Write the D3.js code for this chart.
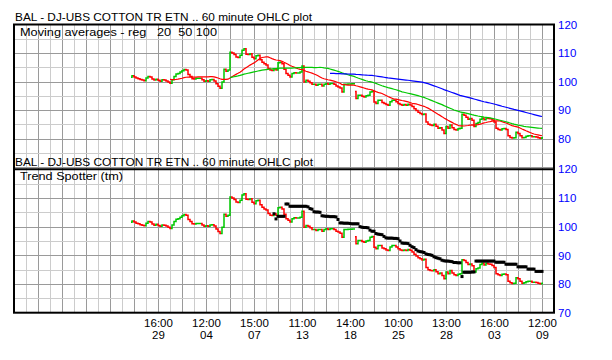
<!DOCTYPE html>
<html>
<head>
<meta charset="utf-8">
<script src="https://cdn.jsdelivr.net/npm/d3@7"></script>
<style>
body{margin:0;background:#fff;}
text{font-family:"Liberation Sans",Arial,sans-serif;font-size:11.5px;}
</style>
</head>
<body>
<svg id="chart"></svg>
<script>
// x axis labels, one every 24 hourly bars
var labelBars = [13,37,61,85,109,133,157,181,205];
var timeLabels = ["16:00","12:00","15:00","11:00","14:00","10:00","13:00","16:00","12:00"];
var dayLabels = ["29","04","07","13","18","25","28","03","09"];

var topTicks = [80,90,100,110,120];
var botTicks = [70,80,90,100,110,120];

// hourly bars (index 0 = first bar)
var opens = [
101.5,102.0,101.6,101.2,101.0,100.7,100.5,100.3,101.2,101.8,
101.6,100.9,100.5,100.8,100.4,100.1,100.6,100.5,100.2,99.8,
99.4,100.6,101.8,102.6,102.8,103.3,103.8,104.2,104.0,102.5,
101.8,101.0,100.9,101.1,101.1,101.1,100.6,100.1,100.3,100.1,
100.6,100.7,100.2,99.2,98.3,97.6,99.8,104.3,103.6,104.0,
110.3,110.0,109.5,108.6,108.4,109.2,111.0,111.5,109.6,109.5,
109.7,108.5,108.0,109.0,109.2,107.6,106.8,106.2,105.8,104.6,
104.0,103.9,104.5,104.0,106.6,106.8,106.2,104.3,102.8,102.2,
101.6,102.8,103.1,103.0,103.0,103.3,105.4,99.8,100.4,100.1,
99.6,99.0,99.0,98.7,99.0,99.0,98.4,99.0,99.3,99.0,
99.3,99.3,99.0,98.4,98.1,97.7,96.3,99.0,99.0,99.1,
99.1,99.2,96.5,94.0,95.2,95.2,94.8,94.6,95.0,95.2,
96.3,96.6,92.8,92.3,93.4,93.4,92.6,92.3,91.9,91.7,
92.9,93.4,93.4,92.9,92.3,91.9,91.7,91.9,91.7,92.0,
91.8,91.2,90.4,89.8,89.2,88.8,88.4,88.6,85.8,85.0,
84.7,84.6,85.0,84.3,83.6,83.8,83.0,81.8,84.2,83.6,
84.7,83.8,83.2,83.0,83.4,83.6,88.5,88.2,87.5,86.8,
87.0,86.4,84.2,85.3,85.6,86.8,87.2,86.6,87.2,87.0,
86.9,86.5,85.8,83.6,83.2,83.0,83.4,83.5,83.2,81.0,
80.4,80.2,80.3,82.2,81.8,81.0,80.3,80.4,80.8,81.0,
81.0,80.6,80.6,80.5,80.3,80.1];
var closes = [
102.0,101.6,101.2,101.0,100.7,100.5,100.3,101.2,101.8,101.6,
100.9,100.5,100.8,100.4,100.1,100.6,100.5,100.2,99.8,99.4,
100.6,101.8,102.6,102.8,103.3,103.8,104.2,104.0,102.5,101.8,
101.0,100.9,101.1,101.1,101.1,100.6,100.1,100.3,100.1,100.6,
100.7,100.2,99.2,98.3,97.6,99.8,104.3,103.6,104.0,110.3,
110.0,109.5,108.6,108.4,109.2,111.0,111.5,109.6,109.5,109.7,
108.5,108.0,109.0,109.2,107.6,106.8,106.2,105.8,104.6,104.0,
103.9,104.5,104.0,106.6,106.8,106.2,104.3,102.8,102.2,101.6,
102.8,103.1,103.0,103.0,103.3,105.4,99.8,100.4,100.1,99.6,
99.0,99.0,98.7,99.0,99.0,98.4,99.0,99.3,99.0,99.3,
99.3,99.0,98.4,98.1,97.7,96.3,99.0,99.0,99.1,99.1,
99.2,99.2,94.0,95.2,95.2,94.8,94.6,95.0,95.2,96.3,
96.6,92.8,92.3,93.4,93.4,92.6,92.3,91.9,91.7,92.9,
93.4,93.4,92.9,92.3,91.9,91.7,91.9,91.7,92.0,91.8,
91.2,90.4,89.8,89.2,88.8,88.4,88.6,85.8,85.0,84.7,
84.6,85.0,84.3,83.6,83.8,83.0,81.8,84.2,83.6,84.7,
83.8,83.2,83.0,83.4,83.6,88.5,88.2,87.5,86.8,87.0,
86.4,84.2,85.3,85.6,86.8,87.2,86.6,87.2,87.0,86.9,
86.5,85.8,83.6,83.2,83.0,83.4,83.5,83.2,81.0,80.4,
80.2,80.3,82.2,81.8,81.0,80.3,80.4,80.8,81.0,81.0,
80.6,80.6,80.5,80.3,80.1,80.3];

// trend spotter, first value at bar 71
var trendStart = 71;
var trendValues = [
104.5,102.7,103.6,103.6,103.6,103.6,107.9,107.9,107.1,107.1,
107.1,107.1,107.1,107.1,107.1,107.1,107.1,106.9,106.3,106.1,
105.2,105.1,105.1,105.0,103.8,103.7,103.6,103.6,103.5,103.5,
103.5,103.4,102.5,101.3,101.3,101.2,101.2,101.2,101.1,101.0,
101.0,101.0,101.0,100.0,99.8,99.7,99.7,99.6,98.8,98.4,
98.4,97.6,97.4,97.3,97.2,96.6,96.1,96.0,96.0,96.0,
95.9,95.9,95.8,95.0,94.3,94.2,94.2,94.1,93.5,93.0,
92.7,92.0,91.5,91.3,91.2,91.0,90.5,90.3,90.2,90.0,
89.5,89.2,89.0,88.8,88.3,88.1,88.0,88.0,87.9,87.8,
87.5,87.5,87.4,87.4,82.6,84.1,84.1,84.1,84.1,84.2,
84.2,88.0,88.0,88.0,88.0,88.0,88.0,88.0,88.0,88.0,
88.0,87.6,87.6,87.6,87.6,87.6,86.9,86.9,86.9,86.9,
86.9,86.9,86.0,86.0,86.0,86.0,86.0,85.2,85.2,85.2,
85.2,84.4,84.4,84.4,84.4];

var maPeriods = [20,50,100];
var maColors = ["#ff0000","#00c800","#0000ff"];

var width = 612, height = 360;
var plotLeft = 14, plotRight = 554, plotTop = 24.5, plotMid = 169.3, plotBottom = 312.7;

var svg = d3.select("#chart").attr("width",width).attr("height",height);
svg.append("rect").attr("width",width).attr("height",height).attr("fill","#fff");

var x = d3.scaleLinear().domain([-59,211]).range([plotLeft,plotRight]);
var yTop = d3.scaleLinear().domain([69.2,120]).range([plotMid,plotTop]);
var yBot = d3.scaleLinear().domain([70,120]).range([plotBottom,plotMid]);

// vertical grid, every 6 bars, darker every 12
var vGrid = d3.range(-53,211,6);
svg.append("g").selectAll("line")
   .data(vGrid)
   .enter()
   .append("line")
   .attr("x1",function(d){return Math.round(x(d))+0.5;})
   .attr("x2",function(d){return Math.round(x(d))+0.5;})
   .attr("y1",plotTop)
   .attr("y2",plotBottom)
   .attr("stroke",function(d){return ((d-13)%12===0)?"#9a9a9a":"#cccccc";});

// horizontal grid for each panel
var drawHGrid = function(y, vals){
  svg.append("g").selectAll("line")
     .data(vals)
     .enter()
     .append("line")
     .attr("x1",plotLeft)
     .attr("x2",plotRight)
     .attr("y1",function(d){return Math.round(y(d))+0.5;})
     .attr("y2",function(d){return Math.round(y(d))+0.5;})
     .attr("stroke",function(d){return (d%10===0)?"#9a9a9a":"#cccccc";});
}
drawHGrid(yTop,[70,75,80,85,90,95,100,105,110,115]);
drawHGrid(yBot,[75,80,85,90,95,100,105,110,115]);

var bars = closes.map(function(c,i){return {i:i,o:opens[i],c:c};});

// OHLC bars as left open tick, range line, right close tick
var drawBars = function(y){
  svg.append("g").selectAll("path")
     .data(bars)
     .enter()
     .append("path")
     .attr("d",function(d){
       var xi = x(d.i);
       return "M"+(xi-1)+","+y(d.o)+"H"+xi+"V"+y(d.c)+"H"+(xi+1);
     })
     .attr("fill","none")
     .attr("stroke-width",1.5)
     .attr("stroke",function(d){return d.c>=d.o?"#00c800":"#ff0000";});
}
drawBars(yTop);
drawBars(yBot);

// moving averages
maPeriods.forEach(function(p,k){
  var ma = closes.map(function(c,i){
    return {i:i,v:(i>=p-1)?d3.mean(closes.slice(i-p+1,i+1)):null};
  });
  var line = d3.line()
     .defined(function(d){return d.v!==null;})
     .x(function(d){return x(d.i);})
     .y(function(d){return yTop(d.v);});
  svg.append("path")
     .datum(ma)
     .attr("d",line)
     .attr("fill","none")
     .attr("stroke",maColors[k])
     .attr("stroke-width",1.2);
});

// trend spotter dots
svg.append("g").selectAll("rect")
   .data(trendValues)
   .enter()
   .append("rect")
   .attr("x",function(d,i){return x(i+trendStart)-1.5;})
   .attr("y",function(d){return yBot(d)-1.5;})
   .attr("width",3)
   .attr("height",3)
   .attr("fill","black");

// frame
svg.append("rect")
   .attr("x",plotLeft).attr("y",plotTop)
   .attr("width",plotRight-plotLeft).attr("height",plotBottom-plotTop)
   .attr("fill","none").attr("stroke","black").attr("stroke-width",2);
svg.append("line")
   .attr("x1",plotLeft).attr("x2",plotRight).attr("y1",plotMid).attr("y2",plotMid)
   .attr("stroke","black").attr("stroke-width",2);

// right axes
var axTop = svg.append("g").attr("transform","translate("+plotRight+",0)")
   .call(d3.axisRight(yTop).tickValues(topTicks).tickSize(0).tickPadding(4));
var axBot = svg.append("g").attr("transform","translate("+plotRight+",0)")
   .call(d3.axisRight(yBot).tickValues(botTicks).tickSize(0).tickPadding(4));
[axTop,axBot].forEach(function(a){
  a.select(".domain").remove();
  a.selectAll("text").attr("fill","#0000ff").style("font-size","11.5px")
   .style("font-family","'Liberation Sans',Arial,sans-serif");
});

// bottom axis, two line labels
var axX = svg.append("g").attr("transform","translate(0,"+plotBottom+")")
   .call(d3.axisBottom(x).tickValues(labelBars).tickSize(0).tickPadding(2));
axX.select(".domain").remove();
axX.selectAll(".tick text").each(function(d,i){
  var t = d3.select(this).text(null).attr("dy",null).attr("y",0)
     .attr("fill","black").style("font-size","11.5px")
     .style("font-family","'Liberation Sans',Arial,sans-serif");
  t.append("tspan").attr("x",0).attr("y",14).text(timeLabels[i]);
  t.append("tspan").attr("x",0).attr("y",26).text(dayLabels[i]);
});

// titles
var titles = [
  {t:"BAL - DJ-UBS COTTON TR ETN .. 60 minute OHLC plot",x:15,y:21,w:297},
  {t:"Moving averages - reg   20  50 100",x:20,y:36,w:197},
  {t:"BAL - DJ-UBS COTTON TR ETN .. 60 minute OHLC plot",x:15,y:166,w:298},
  {t:"Trend Spotter (tm)",x:20,y:180,w:103}
];
svg.selectAll("text.title")
   .data(titles)
   .enter()
   .append("text")
   .attr("class","title")
   .attr("x",function(d){return d.x;})
   .attr("y",function(d){return d.y;})
   .attr("textLength",function(d){return d.w;})
   .attr("lengthAdjust","spacingAndGlyphs")
   .style("white-space","pre")
   .attr("fill","black")
   .text(function(d){return d.t;});
</script>
</body>
</html>
